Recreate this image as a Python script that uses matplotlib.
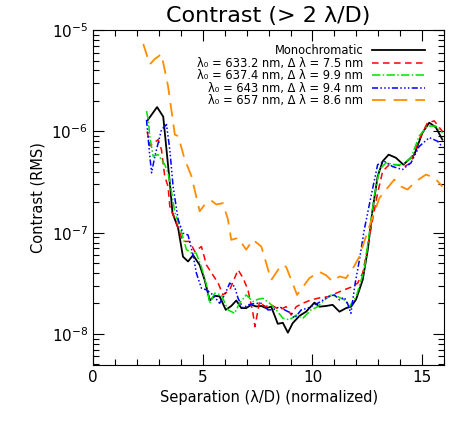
import matplotlib
matplotlib.use("Agg")
import matplotlib.pyplot as plt
from matplotlib.ticker import MultipleLocator, LogLocator, NullFormatter

# monochromatic
x_mono = [2.49, 2.92, 3.2, 3.53, 3.62, 3.68, 3.88, 4.1, 4.33, 4.56, 4.86, 5.09, 5.32, 5.55, 5.77,
          6.05, 6.3, 6.53, 6.76, 6.98, 7.21, 7.44, 7.67, 7.89, 8.12, 8.42, 8.65, 8.88, 9.1, 9.41,
          9.71, 10.09, 10.32, 10.62, 10.92, 11.23, 11.53, 11.76, 11.99, 12.29, 12.52, 12.74, 12.97,
          13.2, 13.47, 13.8, 14.14, 14.64, 15.01, 15.32, 15.62, 15.92]
y_mono = [1.29e-6, 1.74e-6, 1.4e-6, 2.67e-7, 1.57e-7, 1.45e-7, 1.11e-7, 5.8e-8, 5.2e-8, 6.0e-8,
          4.8e-8, 3.4e-8, 2.14e-8, 2.38e-8, 2.35e-8, 1.73e-8, 1.89e-8, 2.14e-8, 1.8e-8, 1.8e-8,
          1.94e-8, 1.87e-8, 1.89e-8, 1.8e-8, 1.86e-8, 1.26e-8, 1.29e-8, 1.03e-8, 1.28e-8, 1.51e-8,
          1.66e-8, 2.04e-8, 1.86e-8, 1.89e-8, 1.94e-8, 1.66e-8, 1.8e-8, 1.86e-8, 2.2e-8, 3.43e-8,
          6.8e-8, 1.69e-7, 3.6e-7, 5.08e-7, 5.9e-7, 5.5e-7, 4.7e-7, 5.9e-7, 9.7e-7, 1.22e-6,
          1.1e-6, 8.3e-7]

# 633.2 nm, 7.5 nm
x_633 = [2.47, 2.59, 2.97, 3.12, 3.27, 3.42, 3.5, 3.8, 4.1, 4.41, 4.64, 4.94, 5.17, 5.47, 5.7,
         5.92, 6.23, 6.61, 6.84, 7.06, 7.29, 7.38, 7.59, 7.82, 8.12, 8.5, 8.8, 9.03, 9.26, 9.56,
         9.94, 10.39, 10.77, 11.08, 11.45, 11.76, 12.06, 12.29, 12.52, 12.74, 12.97, 13.2, 13.5,
         13.8, 14.18, 14.49, 14.86, 15.24, 15.55, 15.92]
y_633 = [1.0e-6, 7.2e-7, 8.3e-7, 6.6e-7, 3.6e-7, 2.86e-7, 1.82e-7, 1.25e-7, 8.2e-8, 8.2e-8,
         6.5e-8, 7.3e-8, 4.8e-8, 3.8e-8, 3.2e-8, 2.43e-8, 2.73e-8, 4.3e-8, 3.56e-8, 2.73e-8,
         1.6e-8, 1.18e-8, 2.09e-8, 1.86e-8, 1.94e-8, 1.73e-8, 1.86e-8, 1.54e-8, 1.86e-8, 2.01e-8,
         2.17e-8, 2.29e-8, 2.34e-8, 2.53e-8, 2.73e-8, 2.9e-8, 3.18e-8, 4.0e-8, 7.3e-8, 1.35e-7,
         2.47e-7, 4.05e-7, 4.7e-7, 4.7e-7, 4.5e-7, 4.9e-7, 8.3e-7, 1.22e-6, 1.27e-6, 1.0e-6]

# 637.4 nm, 9.9 nm
x_637 = [2.44, 2.52, 2.59, 2.74, 2.97, 3.27, 3.42, 3.55, 3.73, 3.95, 4.26, 4.49, 4.7, 4.94, 5.17,
         5.32, 5.55, 5.85, 6.15, 6.45, 6.68, 6.98, 7.29, 7.51, 7.74, 8.05, 8.35, 8.65, 8.95, 9.26,
         9.56, 9.94, 10.24, 10.55, 10.85, 11.15, 11.45, 11.68, 11.99, 12.36, 12.59, 12.82, 13.05,
         13.35, 13.73, 14.1, 14.49, 14.86, 15.24, 15.62, 15.92]
y_637 = [1.59e-6, 1.3e-6, 8.9e-7, 5.7e-7, 5.9e-7, 4.7e-7, 3.9e-7, 2.78e-7, 1.58e-7, 1.16e-7,
         6.8e-8, 6.3e-8, 6.3e-8, 4.6e-8, 3.06e-8, 2.01e-8, 2.53e-8, 2.43e-8, 1.73e-8, 1.6e-8,
         2.01e-8, 2.43e-8, 2.09e-8, 2.2e-8, 2.25e-8, 2.01e-8, 1.73e-8, 1.43e-8, 1.38e-8, 1.54e-8,
         1.43e-8, 1.73e-8, 1.86e-8, 2.17e-8, 2.43e-8, 2.34e-8, 2.17e-8, 1.86e-8, 2.34e-8, 4.3e-8,
         9.9e-8, 2.3e-7, 4.2e-7, 4.9e-7, 4.7e-7, 4.7e-7, 5.5e-7, 9.0e-7, 1.13e-6, 1.13e-6, 9.7e-7]

# 643 nm, 9.4 nm
x_643 = [2.44, 2.52, 2.59, 2.67, 2.82, 2.97, 3.12, 3.35, 3.5, 3.65, 3.88, 4.1, 4.33, 4.56, 4.71,
         4.94, 5.17, 5.47, 5.77, 6.0, 6.23, 6.45, 6.61, 6.84, 7.06, 7.36, 7.67, 7.97, 8.2, 8.5,
         8.73, 9.03, 9.18, 9.49, 9.79, 10.09, 10.39, 10.7, 11.0, 11.23, 11.45, 11.6, 11.75, 11.95,
         12.14, 12.36, 12.67, 12.97, 13.27, 13.65, 14.1, 14.49, 14.86, 15.32, 15.7, 15.95]
y_643 = [1.3e-6, 8.3e-7, 5.7e-7, 3.9e-7, 5.7e-7, 7.7e-7, 1.04e-6, 1.17e-6, 6.6e-7, 2.86e-7,
         1.35e-7, 9.9e-8, 9.5e-8, 6.0e-8, 4.0e-8, 2.83e-8, 2.73e-8, 2.43e-8, 2.01e-8, 2.43e-8,
         3.18e-8, 2.94e-8, 2.25e-8, 1.8e-8, 1.94e-8, 2.0e-8, 2.01e-8, 1.73e-8, 1.73e-8, 1.86e-8,
         1.73e-8, 1.6e-8, 1.43e-8, 1.73e-8, 1.8e-8, 1.94e-8, 2.09e-8, 2.34e-8, 2.43e-8, 2.17e-8,
         2.3e-8, 2.0e-8, 1.6e-8, 3.2e-8, 5.4e-8, 1.07e-7, 2.3e-7, 4.7e-7, 5.08e-7, 4.5e-7, 4.2e-7,
         4.9e-7, 7.1e-7, 8.7e-7, 8.0e-7, 6.9e-7]

# 657 nm, 8.6 nm
x_657 = [2.29, 2.59, 2.82, 3.12, 3.42, 3.73, 3.88, 4.18, 4.49, 4.86, 5.09, 5.39, 5.62, 5.92, 6.15,
         6.3, 6.61, 6.98, 7.29, 7.67, 8.12, 8.58, 8.8, 9.3, 9.86, 10.32, 10.62, 10.92, 11.23,
         11.53, 11.83, 12.14, 12.36, 12.67, 13.05, 13.42, 13.73, 14.03, 14.33, 14.7, 15.17,
         15.55, 15.92]
y_657 = [7.3e-6, 4.6e-6, 5.2e-6, 5.8e-6, 2.8e-6, 9.3e-7, 9.0e-7, 5.3e-7, 3.6e-7, 1.63e-7, 1.89e-7,
         2.08e-7, 1.9e-7, 1.96e-7, 1.35e-7, 8.5e-8, 8.9e-8, 6.8e-8, 8.5e-8, 7.3e-8, 3.4e-8, 4.8e-8,
         4.6e-8, 2.43e-8, 3.56e-8, 4.1e-8, 3.8e-8, 3.3e-8, 3.7e-8, 3.56e-8, 4.4e-8, 5.8e-8, 8.2e-8,
         1.29e-7, 2.2e-7, 2.77e-7, 3.35e-7, 2.86e-7, 2.67e-7, 3.2e-7, 3.75e-7, 3.5e-7, 2.86e-7]

labels = [
    "Monochromatic",
    "λ₀ = 633.2 nm, Δ λ = 7.5 nm",
    "λ₀ = 637.4 nm, Δ λ = 9.9 nm",
    "λ₀ = 643 nm, Δ λ = 9.4 nm",
    "λ₀ = 657 nm, Δ λ = 8.6 nm",
]

fig = plt.figure(figsize=(4.72, 4.25), dpi=100)
ax = fig.add_axes([0.197, 0.141, 0.744, 0.788])

ax.plot(x_mono, y_mono, color="black", lw=1.3, label=labels[0])
ax.plot(x_633, y_633, color="red", lw=1.1, dashes=(4.3, 2.9), label=labels[1])
ax.plot(x_637, y_637, color="#00e000", lw=1.1, dashes=(5.5, 1.5, 1, 1.5), label=labels[2])
ax.plot(x_643, y_643, color="blue", lw=1.1, dashes=(4, 1.5, 1, 1.5, 1, 1.5, 1, 1.5), label=labels[3])
ax.plot(x_657, y_657, color="#ff8c00", lw=1.3, dashes=(7.5, 4.5), label=labels[4])

ax.set_yscale("log")
ax.set_xlim(0, 16)
ax.set_ylim(4.93e-9, 1e-5)

ax.xaxis.set_major_locator(MultipleLocator(5))
ax.xaxis.set_minor_locator(MultipleLocator(1))
ax.yaxis.set_major_locator(LogLocator(base=10))
ax.yaxis.set_minor_locator(LogLocator(base=10, subs=range(2, 10)))
ax.yaxis.set_minor_formatter(NullFormatter())
ax.tick_params(which="both", direction="in", top=True, right=True, labelsize=11, width=0.8)
ax.tick_params(which="major", length=8)
ax.tick_params(which="minor", length=4)
for s in ax.spines.values():
    s.set_linewidth(0.8)

ax.set_title("Contrast (> 2 λ/D)", fontsize=16)
ax.set_xlabel("Separation (λ/D) (normalized)", fontsize=10.5)
ax.set_ylabel("Contrast (RMS)", fontsize=10.5)

ax.legend(loc="upper right", bbox_to_anchor=(0.962, 0.975), frameon=False, markerfirst=False,
          fontsize=8.3, handlelength=4.6, handletextpad=0.75, labelspacing=-0.05, borderpad=0)

fig.savefig("out.png", dpi=100)
